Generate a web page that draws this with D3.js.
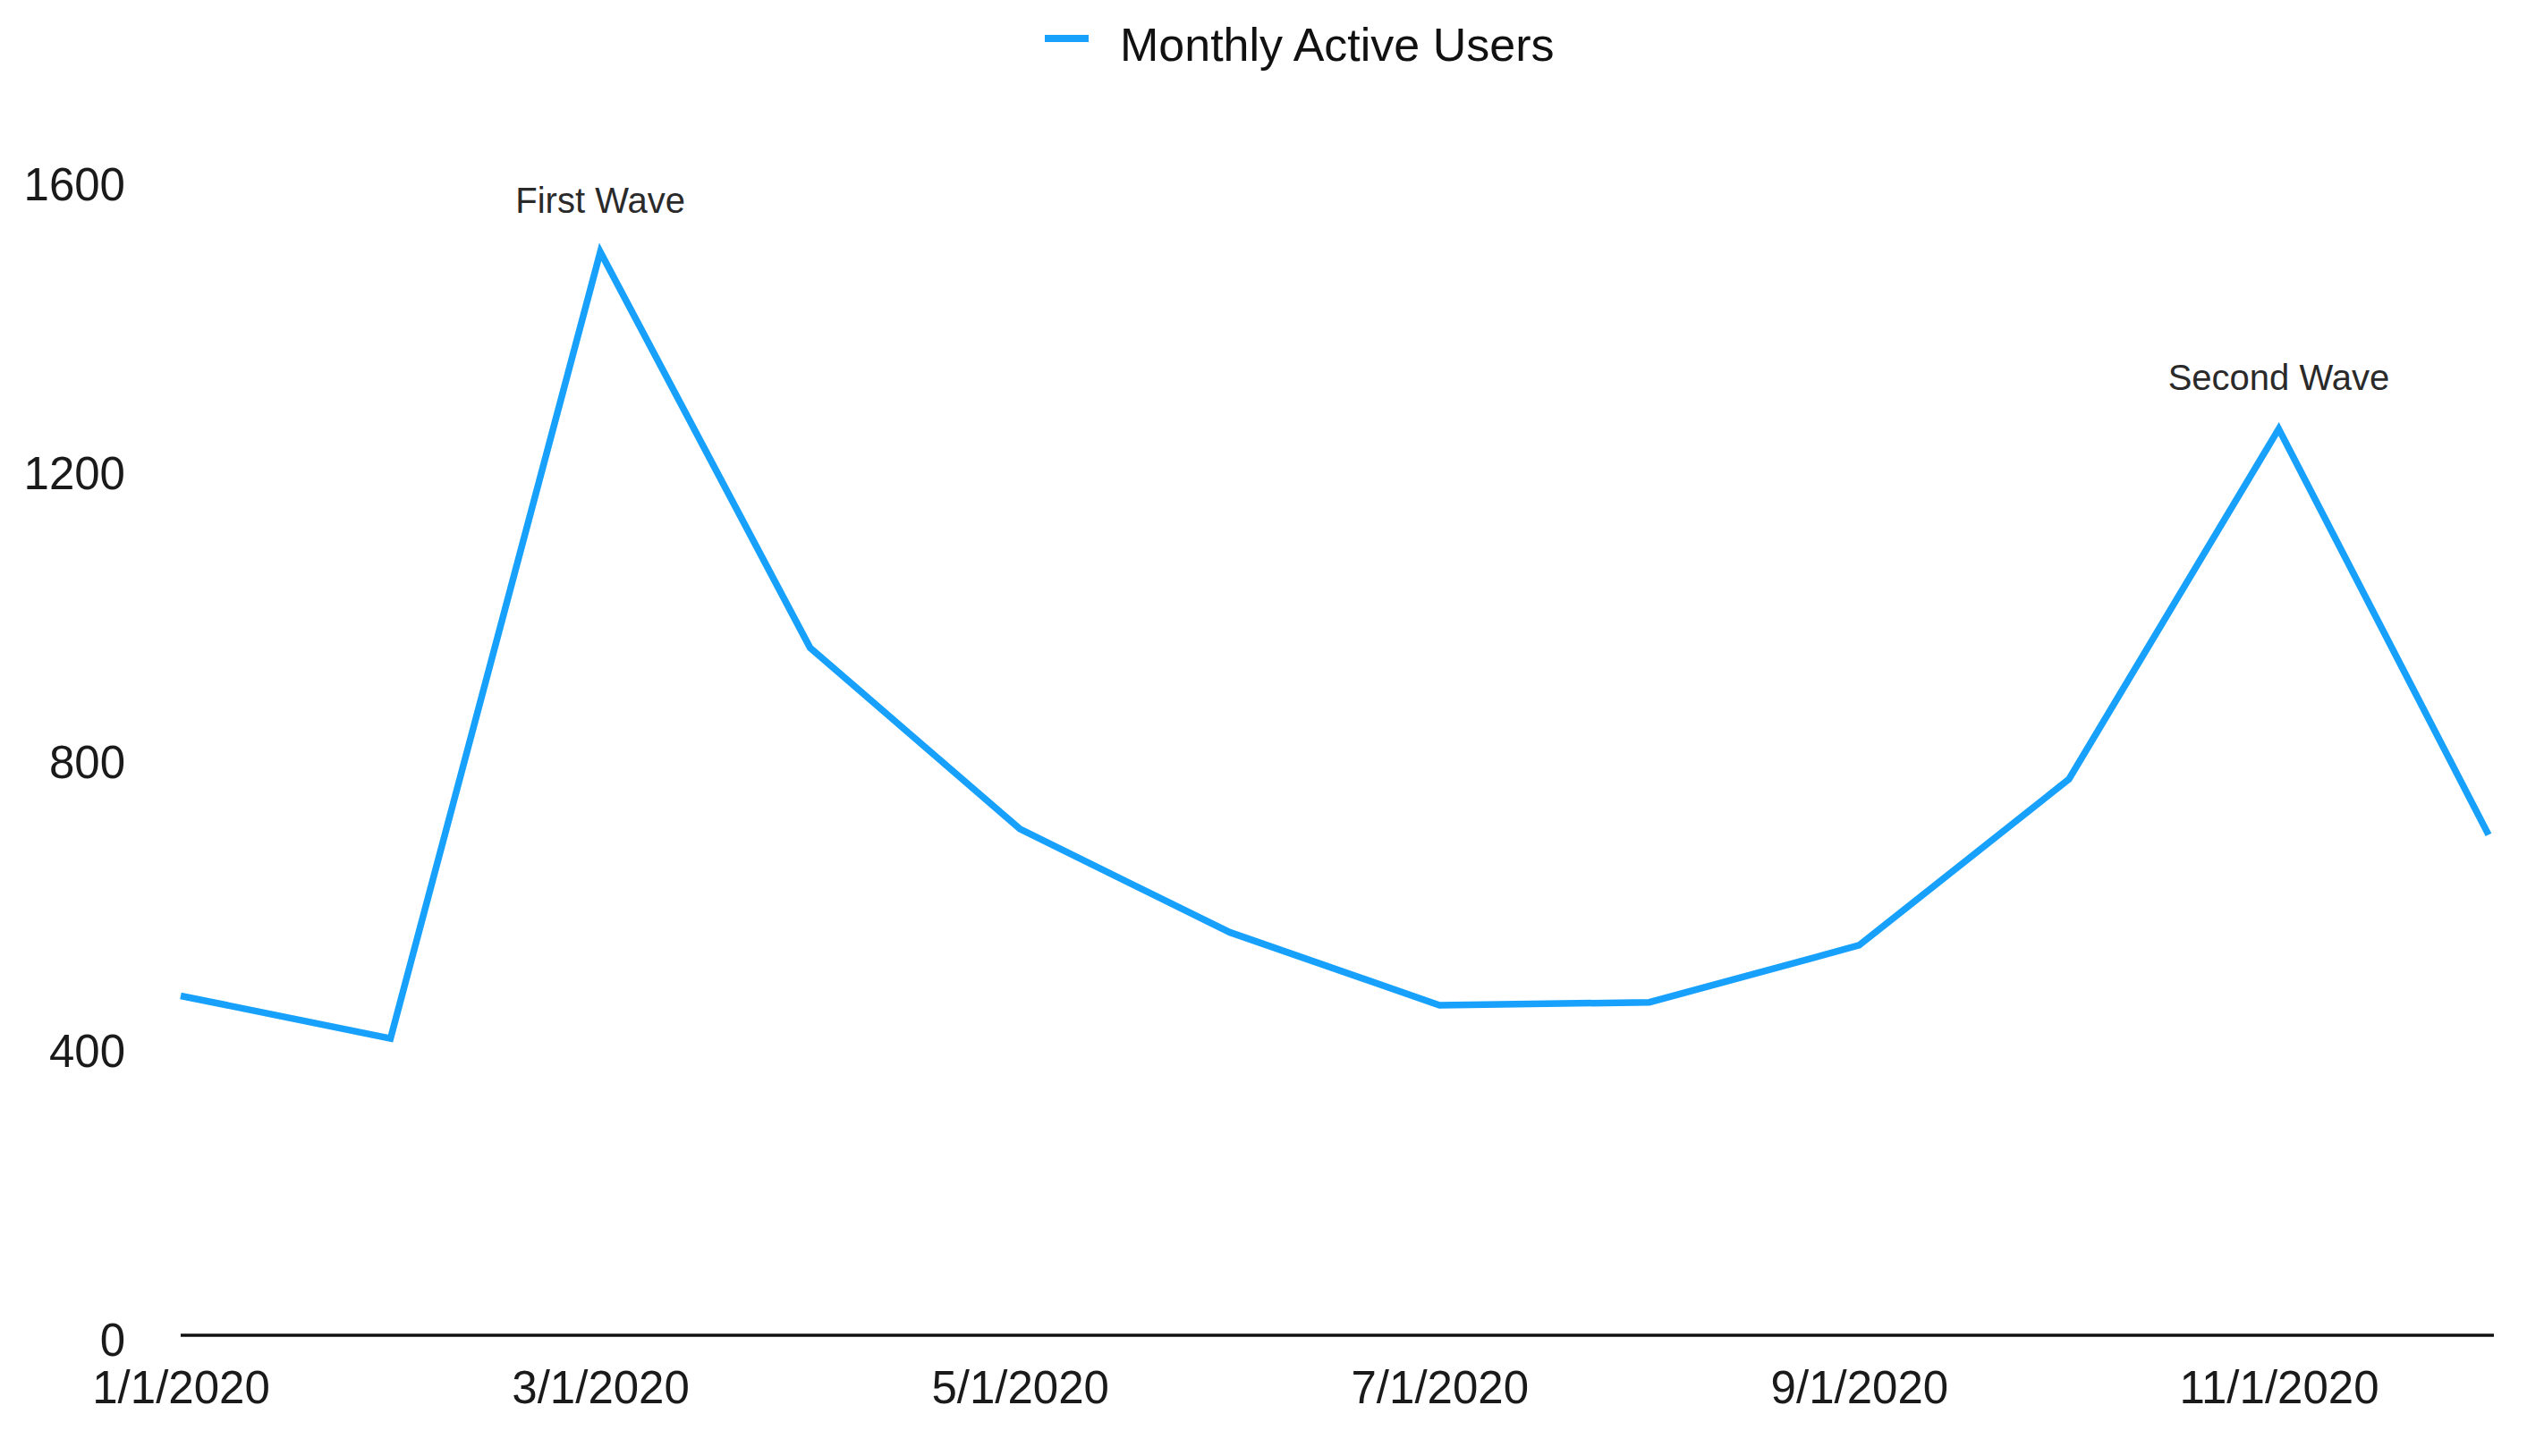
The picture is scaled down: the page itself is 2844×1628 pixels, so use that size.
<!DOCTYPE html>
<html>
<head>
<meta charset="utf-8">
<script src="https://cdn.jsdelivr.net/npm/d3@7"></script>
<style>
  html, body { margin: 0; padding: 0; background: #fff; }
  svg { display: block; }
  text { font-family: "Liberation Sans", Arial, Helvetica, sans-serif; }
</style>
</head>
<body>
<svg id="chart" width="2844" height="1628"></svg>
<script>
const months = ["1/1/2020","2/1/2020","3/1/2020","4/1/2020","5/1/2020","6/1/2020",
                "7/1/2020","8/1/2020","9/1/2020","10/1/2020","11/1/2020","12/1/2020"];
const users = [470, 411, 1500, 952, 701, 558, 457, 461, 540, 770, 1255, 693];
const xTickLabels = ["1/1/2020","3/1/2020","5/1/2020","7/1/2020","9/1/2020","11/1/2020"];
const yTicks = [0, 400, 800, 1200, 1600];
const annotations = [
  { month: "3/1/2020", text: "First Wave" },
  { month: "11/1/2020", text: "Second Wave" }
];
const seriesName = "Monthly Active Users";

const W = 2844, H = 1628;
const margin = { left: 202, right: 62, top: 201, bottom: 135 };
const lineColor = "#17a1fc";

const svg = d3.select("#chart");

const x = d3.scalePoint().domain(months).range([margin.left, W - margin.right]);
const y = d3.scaleLinear().domain([0, 1600]).range([H - margin.bottom, margin.top]);

// Y axis (labels only)
const yAxis = svg.append("g")
  .attr("transform", `translate(${margin.left},0)`)
  .call(d3.axisLeft(y).tickValues(yTicks).tickSize(0).tickPadding(62).tickFormat(d3.format("d")));
yAxis.select(".domain").remove();
yAxis.selectAll("text")
  .attr("font-size", 51)
  .attr("fill", "#1a1a1a")
  .attr("font-family", "'Liberation Sans', Arial, sans-serif")
  .attr("dy", null)
  .attr("dominant-baseline", "central")
  .attr("y", 5);

// X axis
const xAxis = svg.append("g")
  .attr("transform", `translate(0,${y(0)})`)
  .call(d3.axisBottom(x).tickValues(xTickLabels).tickSize(0).tickPadding(0));
xAxis.select(".domain").remove();
xAxis.selectAll("text")
  .attr("font-size", 51)
  .attr("fill", "#1a1a1a")
  .attr("font-family", "'Liberation Sans', Arial, sans-serif")
  .attr("dy", null)
  .attr("y", 76);

// baseline
svg.append("line")
  .attr("x1", x.range()[0])
  .attr("x2", x.range()[1] + 6)
  .attr("y1", y(0)).attr("y2", y(0))
  .attr("stroke", "#111")
  .attr("stroke-width", 3.5);

// line
const line = d3.line()
  .x((d, i) => x(months[i]))
  .y(d => y(d));

svg.append("path")
  .datum(users)
  .attr("d", line)
  .attr("fill", "none")
  .attr("stroke", lineColor)
  .attr("stroke-width", 7.5)
  .attr("stroke-linejoin", "miter")
  .attr("stroke-miterlimit", 10);

// annotations
svg.selectAll(".annot")
  .data(annotations)
  .enter().append("text")
  .attr("class", "annot")
  .attr("x", d => x(d.month))
  .attr("y", d => y(users[months.indexOf(d.month)]) - 44)
  .attr("text-anchor", "middle")
  .attr("font-size", 40)
  .attr("fill", "#2a2a2a")
  .text(d => d.text);

// legend
const legend = svg.append("g");
legend.append("line")
  .attr("x1", 1168).attr("x2", 1217)
  .attr("y1", 43).attr("y2", 43)
  .attr("stroke", lineColor)
  .attr("stroke-width", 8);
legend.append("text")
  .attr("x", 1252).attr("y", 68)
  .attr("font-size", 52)
  .attr("fill", "#111")
  .text(seriesName);
</script>
</body>
</html>
